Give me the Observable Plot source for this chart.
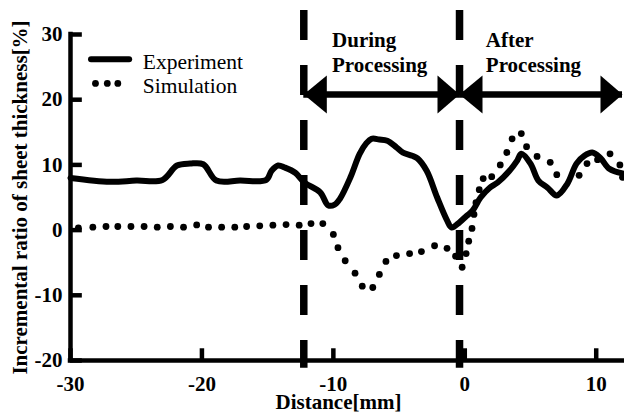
<!DOCTYPE html>
<html>
<head>
<meta charset="utf-8">
<script src="https://cdn.jsdelivr.net/npm/d3@7"></script>
<script src="https://cdn.jsdelivr.net/npm/@observablehq/plot@0.6"></script>
<style>
  html, body { margin: 0; padding: 0; background: #fff; }
</style>
</head>
<body>
<div id="chart"></div>
<script>
// ---- data ----
const xTicks = [-30, -20, -10, 0, 10];
const yTicks = [-20, -10, 0, 10, 20, 30];

const expDist = [-30, -27, -25, -23, -21.9, -20.9, -19.9, -18.9, -17.1, -15.1, -14.7, -14.2, -13.7, -12.9, -12.2,
  -11.0, -10.4, -9.9, -9.5, -8.7, -8.0, -7.5, -7.1, -6.5, -5.9, -5.2, -4.7, -4.0, -3.6, -2.9, -2.1, -1.35, -1.0,
  -0.4, 0.15, 0.6, 1.2, 1.9, 2.5, 3.4, 4.0, 4.3, 5.0, 5.6, 6.3, 7.0, 7.8, 8.5, 9.1, 9.7, 10.3, 11.0, 12.0];
const expVal = [8.0, 7.4, 7.6, 7.7, 9.9, 10.2, 10.1, 7.6, 7.6, 7.7, 9.1, 9.9, 9.6, 8.8, 7.3,
  5.8, 3.8, 3.9, 4.8, 8.1, 11.7, 13.3, 14.0, 13.9, 13.7, 12.7, 11.9, 11.4, 11.0, 9.1, 5.0, 1.5, 0.4,
  1.2, 2.2, 3.0, 5.0, 6.5, 7.3, 9.1, 10.7, 11.7, 10.2, 7.6, 6.5, 5.3, 7.1, 10.2, 11.4, 11.9, 11.1, 9.4, 8.7];

const simDist = [-29.4, -28.3, -27.3, -26.4, -25.4, -24.4, -23.4, -22.4, -21.4, -20.4, -19.5, -18.5, -17.5, -16.6,
  -15.6, -14.6, -13.6, -12.6, -11.7, -10.8, -10.0, -9.65, -9.1, -8.35, -7.8, -7.0, -6.5, -6.0, -5.2, -4.2, -3.3,
  -2.3, -1.35, -0.7, -0.2, 0.1, 0.3, 0.55, 0.7, 0.85, 1.1, 1.4, 2.05, 2.7, 3.2, 3.6, 4.3, 4.7, 5.5, 6.5, 7.0,
  8.7, 9.3, 10.1, 11.05, 11.8, 12.0];
const simVal = [0.35, 0.45, 0.55, 0.55, 0.55, 0.55, 0.45, 0.55, 0.45, 0.8, 0.45, 0.45, 0.45, 0.55,
  0.65, 0.75, 0.85, 0.75, 1.0, 1.0, -0.67, -2.7, -4.7, -6.6, -8.6, -8.8, -6.8, -4.8, -3.9, -3.6, -3.3,
  -2.4, -2.8, -4.0, -5.7, -3.6, -1.7, 0.25, 2.4, 4.2, 6.2, 7.9, 8.2, 10.0, 11.9, 14.0, 14.8, 12.8, 11.3, 10.4, 8.5,
  8.4, 10.2, 10.8, 11.7, 10.0, 8.1];

const seriesNames = ["Experiment", "Simulation"];
const phaseBounds = [-12.25, -0.4];
const phaseNames = ["During\nProcessing", "After\nProcessing"];
const phaseStart = [-12.25, -0.4];
const phaseEnd = [-0.4, 12.0];
const xTitle = "Distance[mm]";
const yTitle = "Incremental ratio of sheet thickness[%]";

// ---- tables built from the arrays ----
const expData = expDist.map((d, i) => ({d, v: expVal[i]}));
const simData = simDist.map((d, i) => ({d, v: simVal[i]}));
const phases = phaseNames.map((name, i) => ({name, x1: phaseStart[i], x2: phaseEnd[i]}));

// layout constants (data coordinates for annotations)
const arrowY = 20.8;
const labelX = [-10.1, 1.6];
const labelTopY = 30.8;
const legend = {lineX1: -28.4, lineX2: -25.5, lineY: 26.2, dotXs: [-28.1, -27.2, -26.4], dotY: 22.5,
  textX: -24.5, textYs: [25.8, 22.1]};
const xMin = -30, yMin = -20;
const yStubEnd = -29.1;  // ~12px inward
const xStubEnd = -18.2;  // ~12px inward

// custom glyphs: arrowheads
const headLeft = {draw(ctx) { ctx.moveTo(0, 0); ctx.lineTo(23, -19); ctx.lineTo(23, 19); ctx.closePath(); }};
const headRight = {draw(ctx) { ctx.moveTo(0, 0); ctx.lineTo(-22, -19); ctx.lineTo(-22, 19); ctx.closePath(); }};

const serif = "'Liberation Serif','Times New Roman',Times,serif";
const fs = 21;

const chart = Plot.plot({
  width: 624,
  height: 416,
  marginLeft: 70,
  marginRight: 2,
  marginTop: 34,
  marginBottom: 56,
  style: {fontFamily: serif, fontSize: fs + "px", fontWeight: "bold", color: "black", background: "white", overflow: "visible"},
  x: {domain: [-30, 12]},
  y: {domain: [-20, 30]},
  marks: [
    // phase dividers
    Plot.ruleX(phaseBounds, {x: d => d, y1: 33.7, y2: -21.2, stroke: "black", strokeWidth: 7.5, strokeDasharray: "30,25", clip: false}),
    // phase arrows
    Plot.ruleY(phases, {y: arrowY, x1: "x1", x2: "x2", strokeWidth: 6.5}),
    Plot.dot(phases, {x: "x1", y: arrowY, symbol: headLeft, fill: "black", stroke: null, r: 10}),
    Plot.dot(phases, {x: "x2", y: arrowY, symbol: headRight, fill: "black", stroke: null, r: 10}),
    Plot.text(phases, {x: (d, i) => labelX[i], y: labelTopY, text: "name", textAnchor: "start", lineAnchor: "top",
      lineHeight: 1.2, fontSize: fs, fontWeight: "bold"}),
    // series
    Plot.line(expData, {x: "d", y: "v", stroke: "black", strokeWidth: 6, curve: "catmull-rom",
      strokeLinejoin: "round", strokeLinecap: "round"}),
    Plot.dot(simData, {x: "d", y: "v", r: 3.4, fill: "black", stroke: null}),
    // legend
    Plot.ruleY([legend.lineY], {x1: legend.lineX1, x2: legend.lineX2, strokeWidth: 6, strokeLinecap: "round"}),
    Plot.dot(legend.dotXs, {x: d => d, y: legend.dotY, r: 3.4, fill: "black", stroke: null}),
    Plot.text(seriesNames, {x: legend.textX, y: (d, i) => legend.textYs[i], text: d => d, textAnchor: "start",
      fontWeight: "normal", fontSize: fs + 0.5}),
    // axes: labels from Plot, inward tick stubs as short rules
    Plot.axisX({ticks: xTicks, tickFormat: d => String(d), tickSize: 0, tickPadding: 16, label: null, fontSize: fs}),
    Plot.axisY({ticks: yTicks, tickFormat: d => String(d), tickSize: 0, tickPadding: 8, label: null, fontSize: fs}),
    Plot.ruleY(yTicks, {y: d => d, x1: xMin, x2: yStubEnd, stroke: "black", strokeWidth: 4.5}),
    Plot.ruleX(xTicks, {x: d => d, y1: yMin, y2: xStubEnd, stroke: "black", strokeWidth: 4.5}),
    Plot.ruleX([xMin], {strokeWidth: 4.5, strokeLinecap: "square"}),
    Plot.ruleY([yMin], {strokeWidth: 4.5, strokeLinecap: "square"}),
    // axis titles
    Plot.text([xTitle], {frameAnchor: "bottom", text: d => d, dy: 42, dx: -8, textAnchor: "middle", lineAnchor: "middle", fontSize: fs}),
    Plot.text([yTitle], {frameAnchor: "left", text: d => d, dx: -50, rotate: -90, textAnchor: "middle", lineAnchor: "middle", fontSize: fs})
  ]
});

document.getElementById("chart").appendChild(chart);
</script>
</body>
</html>
